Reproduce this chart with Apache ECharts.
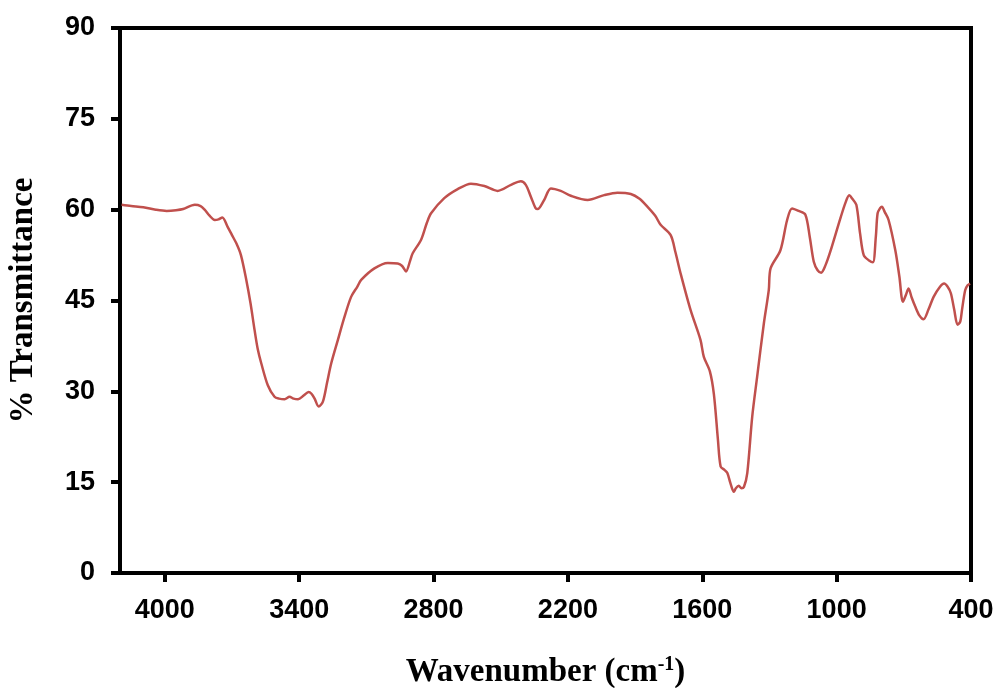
<!DOCTYPE html>
<html>
<head>
<meta charset="utf-8">
<script src="https://cdn.jsdelivr.net/npm/echarts@6/dist/echarts.min.js"></script>
<style>
  html,body{margin:0;padding:0;background:#fff;}
  #chart{width:997px;height:688px;}
</style>
</head>
<body>
<div id="chart"></div>
<script>
// wavenumber (cm-1), high to low
var wavenumber = [4193,4150,4096,4040,3992,3950,3918,3866,3840,3822,3800,3777,3760,3743,3720,3700,3680,3660,3636,3617,3599,3585,3569,3540,3510,3490,3465,3443,3425,3405,3380,3358,3345,3331,3313,3294,3275,3257,3227,3200,3168,3140,3123,3064,3004,2960,2940,2923,2905,2893,2856,2830,2811,2752,2692,2633,2573,2514,2454,2410,2388,2365,2345,2335,2306,2276,2232,2187,2112,2038,1979,1919,1880,1845,1810,1786,1741,1720,1697,1652,1608,1593,1566,1548,1530,1518,1500,1488,1474,1459,1450,1437,1425,1414,1399,1377,1355,1325,1303,1295,1251,1221,1199,1170,1140,1120,1102,1085,1069,1050,1028,983,960,944,930,912,895,879,855,838,825,817,805,798,785,768,738,720,704,690,679,665,649,630,612,590,567,540,520,505,490,475,460,448,440,426,415,404];
// % transmittance for each wavenumber
var transmittance = [60.8,60.6,60.4,60.0,59.8,59.9,60.1,60.8,60.6,60.0,59.0,58.3,58.4,58.7,57.2,55.8,54.4,52.5,48.4,44.5,40.1,37.0,34.6,31.0,29.1,28.8,28.7,29.1,28.8,28.7,29.3,29.9,29.6,28.8,27.5,28.3,31.5,34.6,38.5,42.0,45.6,47.3,48.4,50.3,51.2,51.1,50.7,49.8,51.5,52.8,55.0,57.8,59.4,61.9,63.4,64.3,63.9,63.1,64.1,64.7,64.1,62.1,60.3,60.1,61.6,63.5,63.1,62.3,61.6,62.4,62.8,62.6,61.8,60.5,59.0,57.5,55.8,53.0,49.5,43.4,38.5,35.7,33.3,29.5,22.0,17.6,17.0,16.5,14.8,13.4,14.0,14.4,14.0,14.2,16.5,25.8,32.4,41.2,46.7,50.3,53.3,58.3,60.2,59.8,59.2,55.5,51.4,50.0,49.6,50.8,53.1,58.6,61.2,62.4,61.8,60.8,56.0,52.5,51.6,51.3,55.5,59.4,60.3,60.5,59.6,58.3,53.3,49.0,44.8,46.0,47.0,45.5,44.0,42.5,41.9,43.5,45.6,47.2,47.8,47.3,46.2,43.5,41.0,41.5,43.5,46.7,47.5,47.8];
var xTicks = [4000,3400,2800,2200,1600,1000,400];
var yTicks = [0,15,30,45,60,75,90];

var points = wavenumber.map(function(w,i){ return [w, transmittance[i]]; });

var chart = echarts.init(document.getElementById('chart'));
var option = {
  backgroundColor:'#fff',
  animation:false,
  grid:{
    left:120, right:26, top:28, bottom:115,
    outerBoundsMode:'none',
    containLabel:false,
    show:true, borderColor:'#000', borderWidth:4
  },
  xAxis:{
    type:'value',
    inverse:true,
    min:400,
    max:4200,
    name:'Wavenumber (cm{sup|-1})',
    nameLocation:'middle',
    nameGap:82,
    nameTextStyle:{
      fontFamily:'Liberation Serif, Times New Roman, serif',
      fontWeight:'bold',
      fontSize:33,
      color:'#000',
      rich:{
        sup:{fontFamily:'Liberation Serif, serif',fontWeight:'bold',fontSize:20,verticalAlign:'top',color:'#000',padding:[0,0,14,0]}
      }
    },
    axisLine:{show:true,lineStyle:{color:'#000',width:4}},
    axisTick:{show:true,length:9,lineStyle:{color:'#000',width:4},customValues:xTicks},
    axisLabel:{
      customValues:xTicks,
      margin:24,
      color:'#000',
      fontFamily:'Liberation Sans, Arial, sans-serif',
      fontWeight:'bold',
      fontSize:27,
      formatter:function(v){ return String(v); }
    },
    splitLine:{show:false}
  },
  yAxis:{
    type:'value',
    min:0,
    max:90,
    interval:15,
    name:'% Transmittance',
    nameLocation:'middle',
    nameGap:80,
    nameRotate:90,
    nameTextStyle:{
      fontFamily:'Liberation Serif, Times New Roman, serif',
      fontWeight:'bold',
      fontSize:33,
      color:'#000'
    },
    axisLine:{show:true,lineStyle:{color:'#000',width:4}},
    axisTick:{show:true,length:9,lineStyle:{color:'#000',width:4}},
    axisLabel:{
      margin:25,
      color:'#000',
      fontFamily:'Liberation Sans, Arial, sans-serif',
      fontWeight:'bold',
      fontSize:27
    },
    splitLine:{show:false}
  },
  series:[{
    type:'line',
    data:points,
    smooth:0.3,
    showSymbol:false,
    lineStyle:{color:'#C0504D',width:2.5},
    itemStyle:{color:'#C0504D'}
  }]
};
chart.setOption(option);
</script>
</body>
</html>
